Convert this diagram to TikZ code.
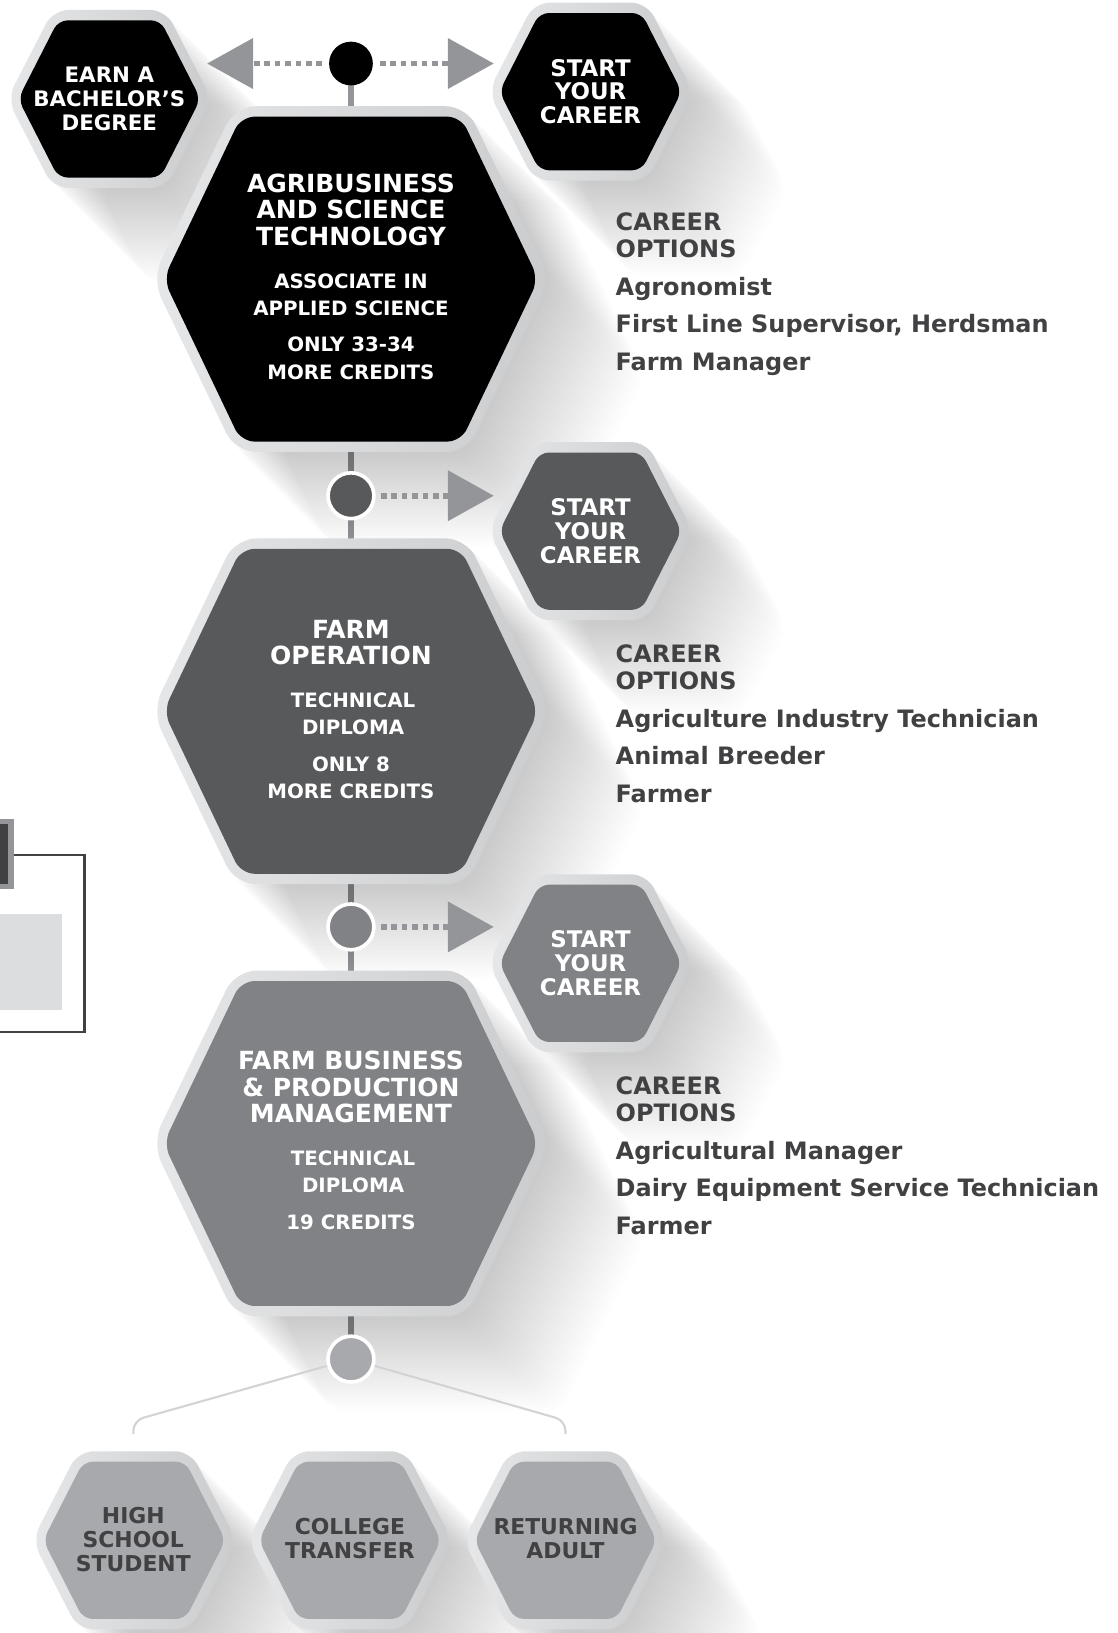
\documentclass[tikz,border=0pt]{standalone}
\usepackage{fontspec}
\setmainfont{DejaVu Sans}
\usepackage{tikz}
\usetikzlibrary{positioning}
\usetikzlibrary{arrows.meta,backgrounds}

\definecolor{hexblack}{HTML}{000000}
\definecolor{hexdark}{HTML}{58595B}
\definecolor{hexmid}{HTML}{808285}
\definecolor{hexlight}{HTML}{A7A9AC}
\definecolor{rimlight}{HTML}{E6E7E8}
\definecolor{rimdark}{HTML}{CBCCCE}
\definecolor{boxgray}{HTML}{DCDDDE}
\definecolor{linkgray}{HTML}{939598}
\definecolor{textgray}{HTML}{414042}
\definecolor{wiregray}{HTML}{D1D3D4}

\tikzset{
  rimbig/.style={left color=rimlight, right color=rimdark, rounded corners=20pt},
  rimsmall/.style={left color=rimlight, right color=rimdark, rounded corners=15pt},
  facebig/.style={rounded corners=13pt},
  facesmall/.style={rounded corners=9pt},
  hexshadow/.style={fill=black, opacity=0.009},
  dotc/.style={circle, minimum size=44pt, inner sep=0pt, draw=white, line width=3.5pt},
  stem/.style={draw=linkgray, line width=6.5pt},
  dotlink/.style={draw=linkgray, line width=5.5pt, dash pattern=on 5.5pt off 4.5pt,
    shorten <=5pt, -{Triangle[length=44pt,width=49pt,line width=0pt]}},
  wire/.style={draw=wiregray, line width=2pt, rounded corners=10pt},
  hextext/.style={align=center, text=white, inner sep=0pt,
    font=\bfseries\fontsize{21}{23}\selectfont},
  starttext/.style={hextext, font=\bfseries\fontsize{22}{23}\selectfont},
  bigtitle/.style={hextext, font=\bfseries\fontsize{24}{25.5}\selectfont},
  bigsub/.style={hextext, font=\bfseries\fontsize{19}{26}\selectfont},
  opts/.style={align=left, text=textgray, inner sep=0pt, anchor=north west,
    font=\bfseries\fontsize{23}{26}\selectfont}
}

% hexagon: centre x, y, half width, half top edge, half height
\newcommand{\hexat}[5]{(#1-#3,#2) -- (#1-#4,#2-#5) -- (#1+#4,#2-#5) -- (#1+#3,#2)
  -- (#1+#4,#2+#5) -- (#1-#4,#2+#5) -- cycle}
\newcommand{\bigrim}[2]{\hexat{#1}{#2}{191}{111}{166}}
\newcommand{\bigface}[2]{\hexat{#1}{#2}{180}{105.5}{156}}
\newcommand{\smallrim}[2]{\hexat{#1}{#2}{98}{54}{85.5}}
\newcommand{\smallface}[2]{\hexat{#1}{#2}{87.5}{49}{75.5}}

% smeared shadow toward lower right
\newcommand{\hexshade}[1]{%
  \foreach \k in {1,...,26}
    \fill[hexshadow, rounded corners=15pt, shift={(3.5*\k,3.5*\k)}] #1;
}

\begin{document}
\begin{tikzpicture}[x=1pt,y=-1pt]
\useasboundingbox (0,0) rectangle (1073,1568);

% shadows
\hexshade{\smallrim{105}{95}}
\hexshade{\smallrim{567}{88}}
\hexshade{\bigrim{337}{268}}
\hexshade{\smallrim{567}{510}}
\hexshade{\bigrim{337}{683}}
\hexshade{\smallrim{567}{925}}
\hexshade{\bigrim{337}{1098}}
\hexshade{\smallrim{129}{1479}}
\hexshade{\smallrim{336}{1479}}
\hexshade{\smallrim{543}{1479}}

% cut-off piece at the left edge
\draw[textgray, line width=2.5pt] (-5,821) -- (81,821) -- (81,991) -- (-5,991);
\fill[boxgray] (0,878) rectangle (60,970);
\fill[linkgray] (0,786) rectangle (13.4,854);
\fill[textgray] (0,791) rectangle (7.7,849);

% hexagons
\shade[rimsmall] \smallrim{105}{95};
\fill[facesmall, hexblack] \smallface{105}{95};
\shade[rimsmall] \smallrim{567}{88};
\fill[facesmall, hexblack] \smallface{567}{88};
\shade[rimbig] \bigrim{337}{268};
\fill[facebig, hexblack] \bigface{337}{268};
\shade[rimsmall] \smallrim{567}{510};
\fill[facesmall, hexdark] \smallface{567}{510};
\shade[rimbig] \bigrim{337}{683};
\fill[facebig, hexdark] \bigface{337}{683};
\shade[rimsmall] \smallrim{567}{925};
\fill[facesmall, hexmid] \smallface{567}{925};
\shade[rimbig] \bigrim{337}{1098};
\fill[facebig, hexmid] \bigface{337}{1098};
\foreach \x in {129,336,543} {
  \shade[rimsmall] \smallrim{\x}{1479};
  \fill[facesmall, hexlight] \smallface{\x}{1479};
}

\coordinate (bach) at (105,95);
\coordinate (start1) at (567,88);
\coordinate (agri) at (337,268);
\coordinate (start2) at (567,510);
\coordinate (farmop) at (337,683);
\coordinate (start3) at (567,925);
\coordinate (fbpm) at (337,1098);
\coordinate (hs) at (128,1478);
\coordinate (ct) at (336,1477);
\coordinate (ra) at (543,1477);

% junction dots
\node[dotc, fill=black, draw=none, minimum size=42pt] (c1) at (337,61) {};
\node[dotc, fill=hexdark] (c2) at (337,476) {};
\node[dotc, fill=hexmid] (c3) at (337,890) {};
\node[dotc, fill=hexlight] (c4) at (337,1305) {};

\coordinate (tipl) at (199,61);
\coordinate (tipr) at (474,61);
\coordinate (tip2) at (474,476);
\coordinate (tip3) at (474,890);
\coordinate (wl) at (128,1364);
\coordinate (wle) at (128,1377);
\coordinate (wr) at (543,1364);
\coordinate (wre) at (543,1377);

\begin{scope}[on background layer]
\draw[stem] (c1.center) -- (agri);
\draw[stem] (agri) -- (c2.center) -- (farmop);
\draw[stem] (farmop) -- (c3.center) -- (fbpm);
\draw[stem] (fbpm) -- (c4.center);
\end{scope}
\draw[wire] (c4) -- (wl) -- (wle);
\draw[wire] (c4) -- (wr) -- (wre);

\draw[dotlink] (c1) -- (tipl);
\draw[dotlink] (c1) -- (tipr);
\draw[dotlink] (c2) -- (tip2);
\draw[dotlink] (c3) -- (tip3);

% texts
\node[hextext, font=\bfseries\fontsize{20.5}{23}\selectfont] (bach-t) at (bach) {EARN A\\BACHELOR’S\\DEGREE};
\node[starttext] (start1-t) at (start1) {START\\YOUR\\CAREER};
\node[starttext] (start2-t) at (start2) {START\\YOUR\\CAREER};
\node[starttext] (start3-t) at (start3) {START\\YOUR\\CAREER};

\node[bigtitle] (agri-t) at (337,201.5) {AGRIBUSINESS\\AND SCIENCE\\TECHNOLOGY};
\node[bigsub] (agri-s) at (337,283) {ASSOCIATE IN\\APPLIED SCIENCE};
\node[bigsub] (agri-c) at (337,344) {ONLY 33-34\\MORE CREDITS};

\node[bigtitle] (farmop-t) at (337,617) {FARM\\OPERATION};
\node[bigsub] (farmop-s) at (339,685.5) {TECHNICAL\\DIPLOMA};
\node[bigsub] (farmop-c) at (337,746.5) {ONLY 8\\MORE CREDITS};

\node[bigtitle] (fbpm-t) at (337,1044) {FARM BUSINESS\\\& PRODUCTION\\MANAGEMENT};
\node[bigsub] (fbpm-s) at (339,1125) {TECHNICAL\\DIPLOMA};
\node[bigsub] (fbpm-c) at (337,1174) {19 CREDITS};

\node[hextext, text=textgray] (hs-t) at (hs) {HIGH\\SCHOOL\\STUDENT};
\node[hextext, text=textgray] (ct-t) at (ct) {COLLEGE\\TRANSFER};
\node[hextext, text=textgray] (ra-t) at (ra) {RETURNING\\ADULT};

\node[opts] (opt1) at (591,204) {CAREER\\OPTIONS\\[10pt]Agronomist\\[10pt]First Line Supervisor, Herdsman\\[10pt]Farm Manager};
\node[opts] (opt2) at (591,619) {CAREER\\OPTIONS\\[10pt]Agriculture Industry Technician\\[10pt]Animal Breeder\\[10pt]Farmer};
\node[opts] (opt3) at (591,1034) {CAREER\\OPTIONS\\[10pt]Agricultural Manager\\[10pt]Dairy Equipment Service Technician\\[10pt]Farmer};
\end{tikzpicture}
\end{document}
